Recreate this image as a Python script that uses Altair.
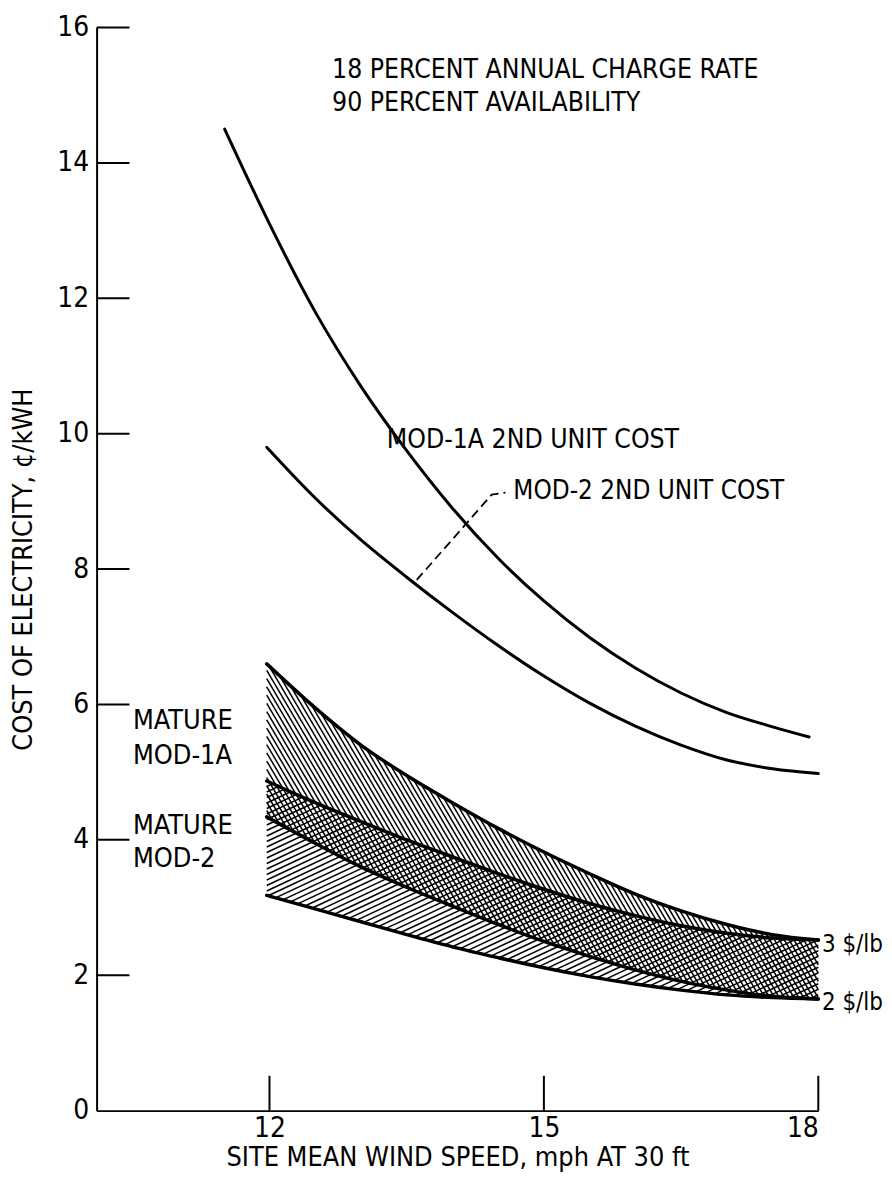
import altair as alt
import pandas as pd
import numpy as np

# ---------------- data ----------------
# MOD-1A 2nd unit cost
u1_x = [11.51, 12.0, 12.5, 13.0, 13.5, 14.0, 14.5, 15.0, 15.5, 16.0, 16.5, 17.0, 17.5, 17.9]
u1_y = [14.5, 13.1, 11.8, 10.7, 9.75, 8.9, 8.16, 7.53, 6.99, 6.54, 6.17, 5.88, 5.67, 5.52]
# MOD-2 2nd unit cost
u2_x = [11.97, 12.5, 13.0, 13.5, 14.0, 14.5, 15.0, 15.5, 16.0, 16.5, 17.0, 17.5, 18.0]
u2_y = [9.8, 9.05, 8.43, 7.88, 7.36, 6.87, 6.42, 6.02, 5.68, 5.4, 5.18, 5.05, 4.98]
# mature machines, band boundaries (3 $/lb and 2 $/lb)
band_x = [11.97, 12.5, 13.0, 13.5, 14.0, 14.5, 15.0, 15.5, 16.0, 16.5, 17.0, 17.5, 18.0]
mod1a_3 = [6.6, 5.95, 5.4, 4.95, 4.55, 4.17, 3.82, 3.5, 3.2, 2.95, 2.75, 2.6, 2.52]
mod2_3 = [4.87, 4.55, 4.27, 4.0, 3.75, 3.5, 3.27, 3.06, 2.88, 2.73, 2.62, 2.55, 2.52]
mod1a_2 = [4.34, 3.95, 3.6, 3.3, 3.02, 2.75, 2.5, 2.28, 2.08, 1.91, 1.78, 1.69, 1.65]
mod2_2 = [3.18, 2.98, 2.79, 2.6, 2.42, 2.26, 2.11, 1.98, 1.87, 1.78, 1.71, 1.67, 1.65]

x_ticks = [12, 15, 18]
y_ticks = [0, 2, 4, 6, 8, 10, 12, 14, 16]

# leader line for the MOD-2 label
leader_x = [13.61, 14.43, 14.58]
leader_y = [7.84, 9.10, 9.13]

labels = [
    ("18 PERCENT ANNUAL CHARGE RATE", 12.684, 15.38, 26.5),
    ("90 PERCENT AVAILABILITY", 12.684, 14.88, 26.5),
    ("MOD-1A 2ND UNIT COST", 13.283, 9.90, 26.5),
    ("MOD-2 2ND UNIT COST", 14.666, 9.15, 26),
    ("MATURE", 10.507, 5.75, 27),
    ("MOD-1A", 10.507, 5.24, 27),
    ("MATURE", 10.507, 4.21, 27),
    ("MOD-2", 10.507, 3.72, 27),
    ("3 $/lb", 18.04, 2.44, 24),
    ("2 $/lb", 18.04, 1.59, 24),
]

# ---------------- layout ----------------
XMIN, XMAX = 10.11, 18.0
YMIN, YMAX = 0.0, 16.0
W, H = 725, 1088
FONT = "Liberation Sans Narrow, DejaVu Sans Condensed, sans-serif"

xsc = alt.Scale(domain=[XMIN, XMAX], nice=False, zero=False)
ysc = alt.Scale(domain=[YMIN, YMAX], nice=False, zero=False)


def hatch(xs, upper, lower, k, spacing):
    """Hatch segments (data coords) filling the band between two curves."""
    g = np.linspace(xs[0], xs[-1], 3000)
    up = np.interp(g, xs, upper)
    lo = np.interp(g, xs, lower)
    px = (g - XMIN) / (XMAX - XMIN) * W
    pyu = H - up / YMAX * H
    pyl = H - lo / YMAX * H
    bmin = np.min(pyu - k * px)
    bmax = np.max(pyl - k * px)
    step = spacing * np.sqrt(1 + k * k)
    rows = []
    for b in np.arange(bmin, bmax, step):
        pl = k * px + b
        inside = (pl >= pyu) & (pl <= pyl)
        idx = np.nonzero(inside)[0]
        if len(idx) < 2:
            continue
        runs = np.split(idx, np.nonzero(np.diff(idx) > 1)[0] + 1)
        for r in runs:
            if len(r) < 2:
                continue
            i0, i1 = r[0], r[-1]
            rows.append({
                "x": XMIN + px[i0] / W * (XMAX - XMIN),
                "y": (H - pl[i0]) / H * YMAX,
                "x2": XMIN + px[i1] / W * (XMAX - XMIN),
                "y2": (H - pl[i1]) / H * YMAX,
            })
    return rows


hatch_rows = hatch(band_x, mod1a_3, mod1a_2, 1.7, 4.2) + hatch(band_x, mod2_3, mod2_2, -0.47, 5.0)
hatch_df = pd.DataFrame(hatch_rows)

line_rows = []
for name, xs, ys, w in [
    ("u1", u1_x, u1_y, 3.0),
    ("u2", u2_x, u2_y, 3.0),
    ("a", band_x, mod1a_3, 3.5),
    ("b", band_x, mod2_3, 3.5),
    ("c", band_x, mod1a_2, 3.5),
    ("d", band_x, mod2_2, 3.5),
]:
    for xv, yv in zip(xs, ys):
        line_rows.append({"s": name, "x": xv, "y": yv, "w": w})
line_df = pd.DataFrame(line_rows)

x_axis = alt.Axis(
    values=x_ticks, format="d", ticks=False, grid=False, domainColor="black", domainWidth=2,
    labelFont=FONT, labelFontSize=28, labelColor="black", labelPadding=4,
    title="SITE MEAN WIND SPEED, mph AT 30 ft", titleFont=FONT, titleFontSize=27,
    titleFontWeight="normal", titleColor="black", titlePadding=2,
)
y_axis = alt.Axis(
    values=y_ticks, format="d", ticks=False, grid=False, domainColor="black", domainWidth=2,
    labelFont=FONT, labelFontSize=28, labelColor="black", labelPadding=8,
    title="COST OF ELECTRICITY, ¢/kWH", titleFont=FONT, titleFontSize=27,
    titleFontWeight="normal", titleColor="black", titleAngle=270,
    titleX=-73, titleY=544, titleAlign="center", titleBaseline="middle",
)

hatch_layer = alt.Chart(hatch_df).mark_rule(color="black", strokeWidth=1.5).encode(
    x=alt.X("x:Q", scale=xsc, axis=x_axis),
    y=alt.Y("y:Q", scale=ysc, axis=y_axis),
    x2="x2:Q",
    y2="y2:Q",
)

curve_layer = alt.Chart(line_df).mark_line(color="black", interpolate="monotone", strokeCap="round").encode(
    x=alt.X("x:Q", scale=xsc),
    y=alt.Y("y:Q", scale=ysc),
    detail="s:N",
    strokeWidth=alt.StrokeWidth("w:Q", scale=None, legend=None),
)

ytick_layer = alt.Chart(pd.DataFrame({"y": y_ticks[1:]})).mark_rule(color="black", strokeWidth=2).encode(
    y=alt.Y("y:Q", scale=ysc), x=alt.value(0), x2=alt.value(33)
)
xtick_layer = alt.Chart(pd.DataFrame({"x": x_ticks})).mark_rule(color="black", strokeWidth=2).encode(
    x=alt.X("x:Q", scale=xsc), y=alt.value(H), y2=alt.value(H - 35)
)

leader_layer = alt.Chart(pd.DataFrame({"x": leader_x, "y": leader_y, "o": [0, 1, 2]})).mark_line(
    color="black", strokeWidth=1.8, strokeDash=[9, 5]
).encode(x=alt.X("x:Q", scale=xsc), y=alt.Y("y:Q", scale=ysc), order="o:Q")

label_df = pd.DataFrame(labels, columns=["t", "x", "y", "fs"])
text_layer = alt.Chart(label_df).mark_text(
    font=FONT, color="black", align="left", baseline="middle"
).encode(
    x=alt.X("x:Q", scale=xsc), y=alt.Y("y:Q", scale=ysc), text="t:N",
    size=alt.Size("fs:Q", scale=None, legend=None),
)

chart = alt.layer(
    hatch_layer, curve_layer, ytick_layer, xtick_layer, leader_layer, text_layer
).properties(
    width=W, height=H,
    background="white",
    padding={"left": 89, "top": 17, "right": 66, "bottom": 62},
    autosize=alt.AutoSizeParams(type="none"),
).configure_view(stroke="transparent")

chart.save("out.html", embed_options={"renderer": "svg", "actions": False})
